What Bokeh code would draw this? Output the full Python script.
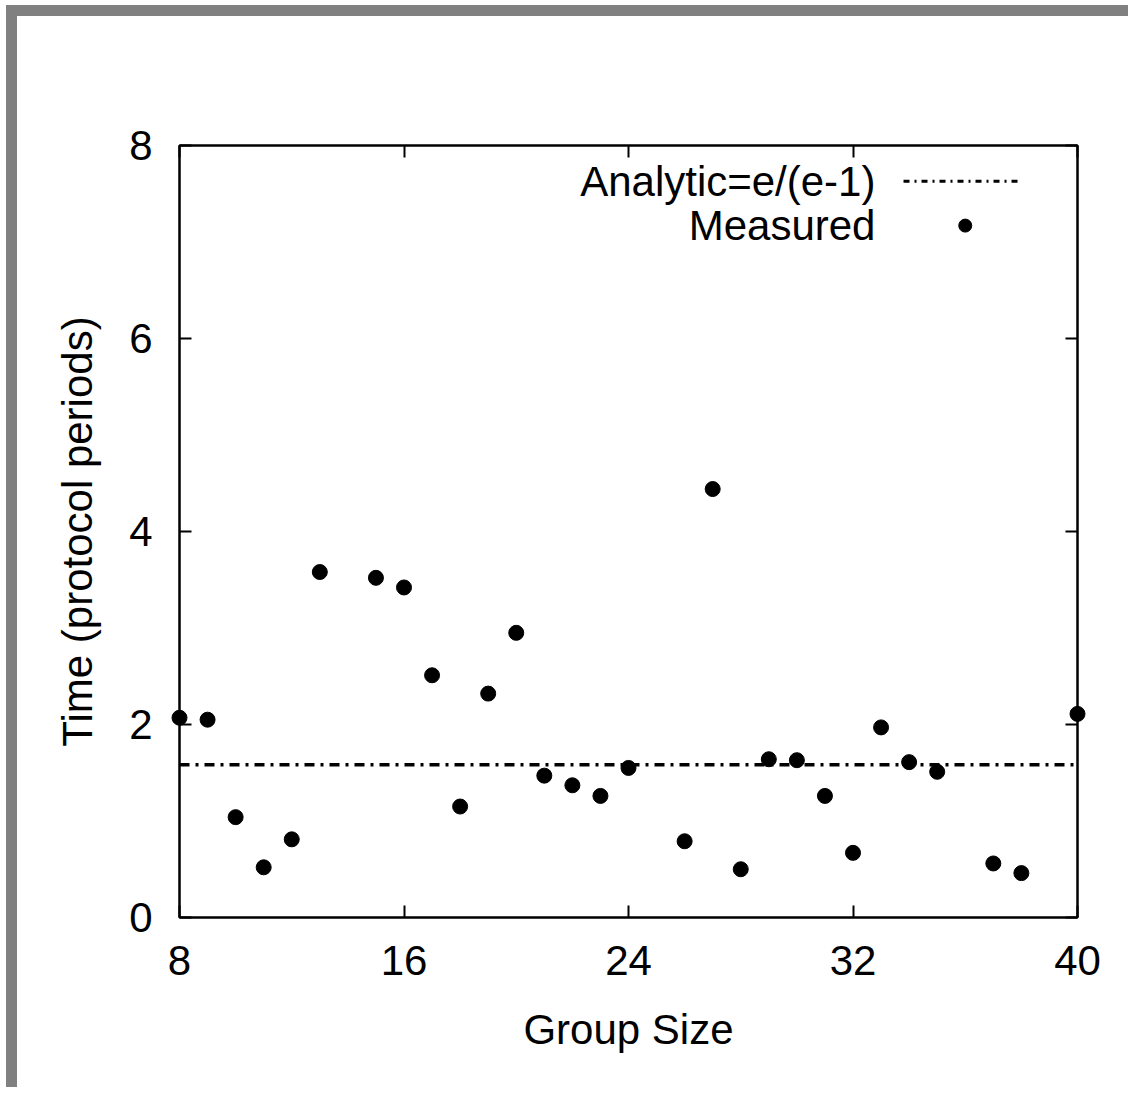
import math
from bokeh.plotting import figure
from bokeh.models import Range1d, FixedTicker, LinearAxis, Span, Label, Spacer
from bokeh.layouts import column, row
from bokeh.embed import file_html
from bokeh.resources import INLINE

# ---- data ----
group_size = [8, 9, 10, 11, 12, 13, 15, 16, 17, 18, 19, 20, 21, 22, 23, 24,
              26, 27, 28, 29, 30, 31, 32, 33, 34, 35, 37, 38, 40]
measured = [2.07, 2.05, 1.04, 0.52, 0.81, 3.58, 3.52, 3.42, 2.51, 1.15, 2.32, 2.95,
            1.47, 1.37, 1.26, 1.55, 0.79, 4.44, 0.50, 1.64, 1.63, 1.26, 0.67, 1.97,
            1.61, 1.51, 0.56, 0.46, 2.11]
analytic = math.e / (math.e - 1)
x_ticks = [8, 16, 24, 32, 40]
y_ticks = [0, 2, 4, 6, 8]

FONT = "Liberation Sans"
FS = "42px"

W, H = 1111, 1071
p = figure(width=W, height=H, output_backend="svg", toolbar_location=None,
           x_range=Range1d(8, 40), y_range=Range1d(0, 8),
           min_border_left=162, min_border_right=51,
           min_border_top=129, min_border_bottom=170,
           x_axis_label="Group Size", y_axis_label="Time (protocol periods)")
p.background_fill_color = "white"
p.border_fill_color = "white"
p.outline_line_color = "black"
p.outline_line_width = 2
p.xgrid.visible = False
p.ygrid.visible = False

for ax, ticks in ((p.xaxis[0], x_ticks), (p.yaxis[0], y_ticks)):
    ax.ticker = FixedTicker(ticks=ticks)
    ax.major_tick_in = 12
    ax.major_tick_out = 0
    ax.minor_tick_line_color = None
    ax.major_tick_line_width = 2
    ax.axis_line_width = 2
    ax.major_label_text_font = FONT
    ax.major_label_text_font_size = FS
    ax.major_label_text_color = "black"
    ax.axis_label_text_font = FONT
    ax.axis_label_text_font_size = FS
    ax.axis_label_text_font_style = "normal"
    ax.axis_label_text_color = "black"

p.xaxis[0].major_label_standoff = 28
p.xaxis[0].axis_label_standoff = 28
p.yaxis[0].major_label_standoff = 27
p.yaxis[0].axis_label_standoff = 25

# mirrored ticks on top and right (no labels)
for side, ticks in (("above", x_ticks), ("right", y_ticks)):
    ax = LinearAxis(ticker=FixedTicker(ticks=ticks))
    ax.major_tick_in = 12
    ax.major_tick_out = 0
    ax.major_tick_line_width = 2
    ax.minor_tick_line_color = None
    ax.axis_line_width = 2
    ax.major_label_text_color = None
    ax.major_label_standoff = 0
    p.add_layout(ax, side)

# analytic line
p.add_layout(Span(location=analytic, dimension="width", line_color="black",
                  line_width=3.5, line_dash="10 6 3 6"))

# measured points
p.scatter(group_size, measured, size=15, color="black", level="overlay")

# legend (label left, sample right, as in the original)
LEG_TEXT_X = 32.80
LEG_Y1, LEG_Y2 = 7.63, 7.17
LEG_LINE_X0, LEG_LINE_X1 = 33.80, 38.04
LEG_DOT_X = 36.0
for txt, yy in (("Analytic=e/(e-1)", LEG_Y1), ("Measured", LEG_Y2)):
    p.add_layout(Label(x=LEG_TEXT_X, y=yy, text=txt, text_align="right",
                       text_baseline="middle", text_font=FONT, text_font_size=FS,
                       text_color="black"))
p.line([LEG_LINE_X0, LEG_LINE_X1], [LEG_Y1, LEG_Y1], line_color="black",
       line_width=3, line_dash="6 5 2 5")
p.scatter([LEG_DOT_X], [LEG_Y2], size=13, color="black", level="overlay")

GRAY = {"background-color": "#808080"}
WHITE = {"background-color": "#ffffff"}
top_white = Spacer(width=W + 17, height=5, styles=WHITE)
top_band = row(Spacer(width=6, height=11, styles=WHITE),
               Spacer(width=W + 11, height=11, styles=GRAY))
body = row(Spacer(width=6, height=H, styles=WHITE),
           Spacer(width=11, height=H, styles=GRAY), p)
layout = column(top_white, top_band, body)

open("out.html", "w").write(file_html(layout, INLINE))
